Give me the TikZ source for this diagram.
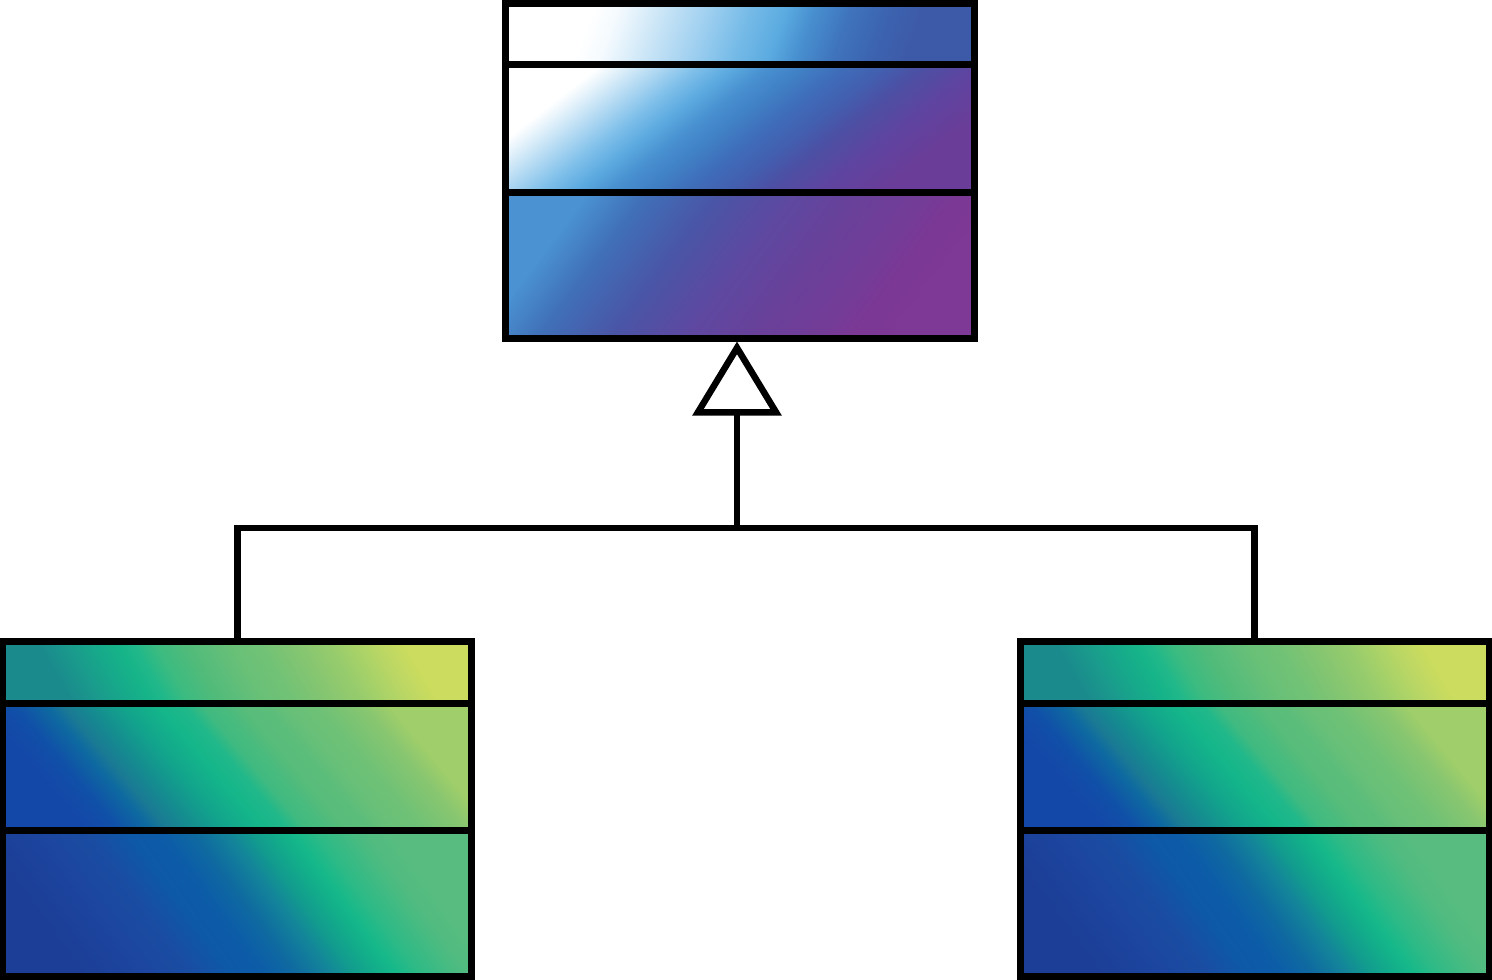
\documentclass[tikz,border=0pt]{standalone}
\usetikzlibrary{arrows.meta,backgrounds,calc}

% top (blue/purple) class: title compartment
\definecolor{tA0}{HTML}{F4FAFE}
\definecolor{tA1}{HTML}{C8E4F6}
\definecolor{tA2}{HTML}{A0D0F0}
\definecolor{tA3}{HTML}{78BCE8}
\definecolor{tA4}{HTML}{5AAAE0}
\definecolor{tA5}{HTML}{4890D0}
\definecolor{tA6}{HTML}{3F74BC}
\definecolor{tA7}{HTML}{3C64B0}
\definecolor{tA8}{HTML}{3D5AA8}
% top class: attribute compartment
\definecolor{tB1}{HTML}{E0F0FA}
\definecolor{tB2}{HTML}{B0D8F2}
\definecolor{tB3}{HTML}{80C0EA}
\definecolor{tB4}{HTML}{5CAAE0}
\definecolor{tB5}{HTML}{4890D0}
\definecolor{tB6}{HTML}{4080C5}
\definecolor{tB7}{HTML}{3F6CB8}
\definecolor{tB8}{HTML}{4260B0}
\definecolor{tB9}{HTML}{4C50A4}
\definecolor{tB10}{HTML}{5E44A0}
\definecolor{tB11}{HTML}{6A3D98}
% top class: operation compartment
\definecolor{tC1}{HTML}{4A92D2}
\definecolor{tC2}{HTML}{4070B8}
\definecolor{tC3}{HTML}{4A55A6}
\definecolor{tC4}{HTML}{5E48A0}
\definecolor{tC5}{HTML}{6A4099}
\definecolor{tC6}{HTML}{733C97}
\definecolor{tC7}{HTML}{7B3895}
\definecolor{tC8}{HTML}{7E3895}
% bottom (blue/green) classes: title compartment
\definecolor{gA1}{HTML}{1A8A8C}
\definecolor{gA2}{HTML}{1A9A8C}
\definecolor{gA3}{HTML}{16AA8A}
\definecolor{gA4}{HTML}{16B489}
\definecolor{gA5}{HTML}{20B88A}
\definecolor{gA6}{HTML}{3CBB80}
\definecolor{gA7}{HTML}{50BB7A}
\definecolor{gA8}{HTML}{5CBD7A}
\definecolor{gA9}{HTML}{68C077}
\definecolor{gA10}{HTML}{70C276}
\definecolor{gA11}{HTML}{80C472}
\definecolor{gA12}{HTML}{98CC6C}
\definecolor{gA13}{HTML}{A8D268}
\definecolor{gA14}{HTML}{BCD764}
\definecolor{gA15}{HTML}{CBDC5E}
% bottom classes: attribute compartment
\definecolor{gB1}{HTML}{1448A8}
\definecolor{gB2}{HTML}{1050A8}
\definecolor{gB3}{HTML}{0E6AA0}
\definecolor{gB4}{HTML}{1A7A94}
\definecolor{gB5}{HTML}{158A90}
\definecolor{gB6}{HTML}{12A48C}
\definecolor{gB7}{HTML}{14B68A}
\definecolor{gB8}{HTML}{20B88A}
\definecolor{gB9}{HTML}{40BA80}
\definecolor{gB10}{HTML}{48BB7E}
\definecolor{gB11}{HTML}{58BC7A}
\definecolor{gB12}{HTML}{5CBD7A}
\definecolor{gB13}{HTML}{68C078}
\definecolor{gB14}{HTML}{6EC176}
\definecolor{gB15}{HTML}{88C670}
\definecolor{gB16}{HTML}{A0CE6A}
% bottom classes: operation compartment
\definecolor{gC1}{HTML}{1C3E96}
\definecolor{gC2}{HTML}{1C46A0}
\definecolor{gC3}{HTML}{1A4CA2}
\definecolor{gC4}{HTML}{0E58A8}
\definecolor{gC5}{HTML}{0C5CA8}
\definecolor{gC6}{HTML}{0F6AA0}
\definecolor{gC7}{HTML}{13849A}
\definecolor{gC8}{HTML}{129C8E}
\definecolor{gC9}{HTML}{12AE8A}
\definecolor{gC10}{HTML}{15B88A}
\definecolor{gC11}{HTML}{2EBA86}
\definecolor{gC12}{HTML}{50BB80}
\definecolor{gC13}{HTML}{58BC80}

\pgfdeclarehorizontalshading{shTopA}{100bp}{color(0bp)=(white); color(29.5bp)=(white); color(33bp)=(tA0); color(39bp)=(tA1); color(44.6bp)=(tA2); color(49.8bp)=(tA3); color(55bp)=(tA4); color(58.4bp)=(tA5); color(63.2bp)=(tA6); color(68bp)=(tA7); color(72.7bp)=(tA8); color(100bp)=(tA8)}
\pgfdeclarehorizontalshading{shTopB}{100bp}{color(0bp)=(white); color(25.5bp)=(white); color(28.3bp)=(tB1); color(32.4bp)=(tB2); color(36.5bp)=(tB3); color(40.5bp)=(tB4); color(44.5bp)=(tB5); color(48.5bp)=(tB6); color(53bp)=(tB7); color(57bp)=(tB8); color(61.5bp)=(tB9); color(67.5bp)=(tB10); color(75bp)=(tB11); color(100bp)=(tB11)}
\pgfdeclarehorizontalshading{shTopC}{100bp}{color(0bp)=(tC1); color(25bp)=(tC1); color(32bp)=(tC2); color(41bp)=(tC3); color(50bp)=(tC4); color(59bp)=(tC5); color(66bp)=(tC6); color(70bp)=(tC7); color(75bp)=(tC8); color(100bp)=(tC8)}
\pgfdeclarehorizontalshading{shGrnA}{100bp}{color(0bp)=(gA1); color(25bp)=(gA1); color(29bp)=(gA2); color(33bp)=(gA3); color(36bp)=(gA4); color(38bp)=(gA5); color(41bp)=(gA6); color(45bp)=(gA7); color(48bp)=(gA8); color(51bp)=(gA9); color(55bp)=(gA10); color(59bp)=(gA11); color(65bp)=(gA12); color(68bp)=(gA13); color(71.5bp)=(gA14); color(75bp)=(gA15); color(100bp)=(gA15)}
\pgfdeclarehorizontalshading{shGrnB}{100bp}{color(0bp)=(gB1); color(25bp)=(gB1); color(29bp)=(gB2); color(33bp)=(gB3); color(35bp)=(gB4); color(37.8bp)=(gB5); color(42.2bp)=(gB6); color(46.7bp)=(gB7); color(49.8bp)=(gB8); color(52bp)=(gB9); color(54.2bp)=(gB10); color(57bp)=(gB11); color(60bp)=(gB12); color(62.4bp)=(gB13); color(66bp)=(gB14); color(71.7bp)=(gB15); color(75bp)=(gB16); color(100bp)=(gB16)}
\pgfdeclarehorizontalshading{shGrnC}{100bp}{color(0bp)=(gC1); color(25bp)=(gC1); color(33bp)=(gC2); color(38bp)=(gC3); color(43bp)=(gC4); color(47bp)=(gC5); color(51bp)=(gC6); color(55bp)=(gC7); color(58bp)=(gC8); color(61bp)=(gC9); color(63bp)=(gC10); color(66bp)=(gC11); color(71.5bp)=(gC12); color(75bp)=(gC13); color(100bp)=(gC13)}

% compartments of a class box: #1 node, #2-#4 shading styles
\newcommand\classparts[4]{%
  \coordinate (#1-nw) at ($(#1.north west)+(3.5,3.5)$);
  \coordinate (#1-ne) at ($(#1.north east)+(-3.5,3.5)$);
  \coordinate (#1-se) at ($(#1.south east)+(-3.5,-3.5)$);
  \coordinate (#1-aw) at ($(#1-nw)+(0,61.5)$);
  \coordinate (#1-ae) at ($(#1-ne)+(0,61.5)$);
  \coordinate (#1-bw) at ($(#1-nw)+(0,189)$);
  \coordinate (#1-be) at ($(#1-ne)+(0,189)$);
  \begin{scope}[on background layer]
    \shade[#2] (#1-nw) rectangle (#1-ae);
    \shade[#3] (#1-aw) rectangle (#1-be);
    \shade[#4] (#1-bw) rectangle (#1-se);
  \end{scope}
  \draw[divider] (#1-aw) -- (#1-ae);
  \draw[divider] (#1-bw) -- (#1-be);
}

\begin{document}
\begin{tikzpicture}[x=1pt,y=-1pt,
  classbox/.style={draw=black, line width=7pt, minimum width=469pt, minimum height=335pt, inner sep=0pt},
  divider/.style={draw=black, line width=7pt},
  conn/.style={draw=black, line width=6.5pt, line join=miter},
  inherit/.style={-{Triangle[open, length=74pt, width=88pt]}},
  topA/.style={shading=shTopA, shading angle=-20},
  topB/.style={shading=shTopB, shading angle=-52},
  topC/.style={shading=shTopC, shading angle=-37},
  grnA/.style={shading=shGrnA, shading angle=30},
  grnB/.style={shading=shGrnB, shading angle=40},
  grnC/.style={shading=shGrnC, shading angle=36}]
\useasboundingbox (0,0) rectangle (1492,980);

\node[classbox] (parent) at (740,170.5) {};
\node[classbox] (childL) at (237.25,809) {};
\node[classbox] (childR) at (1254.5,809) {};

\classparts{parent}{topA}{topB}{topC}
\classparts{childL}{grnA}{grnB}{grnC}
\classparts{childR}{grnA}{grnB}{grnC}

\coordinate (join) at (737,528);
\draw[conn] (childL.north) |- (join) -| (childR.north);
\draw[conn, inherit] (join) -- ($(parent.south)+(-3,0)$);
\end{tikzpicture}
\end{document}
